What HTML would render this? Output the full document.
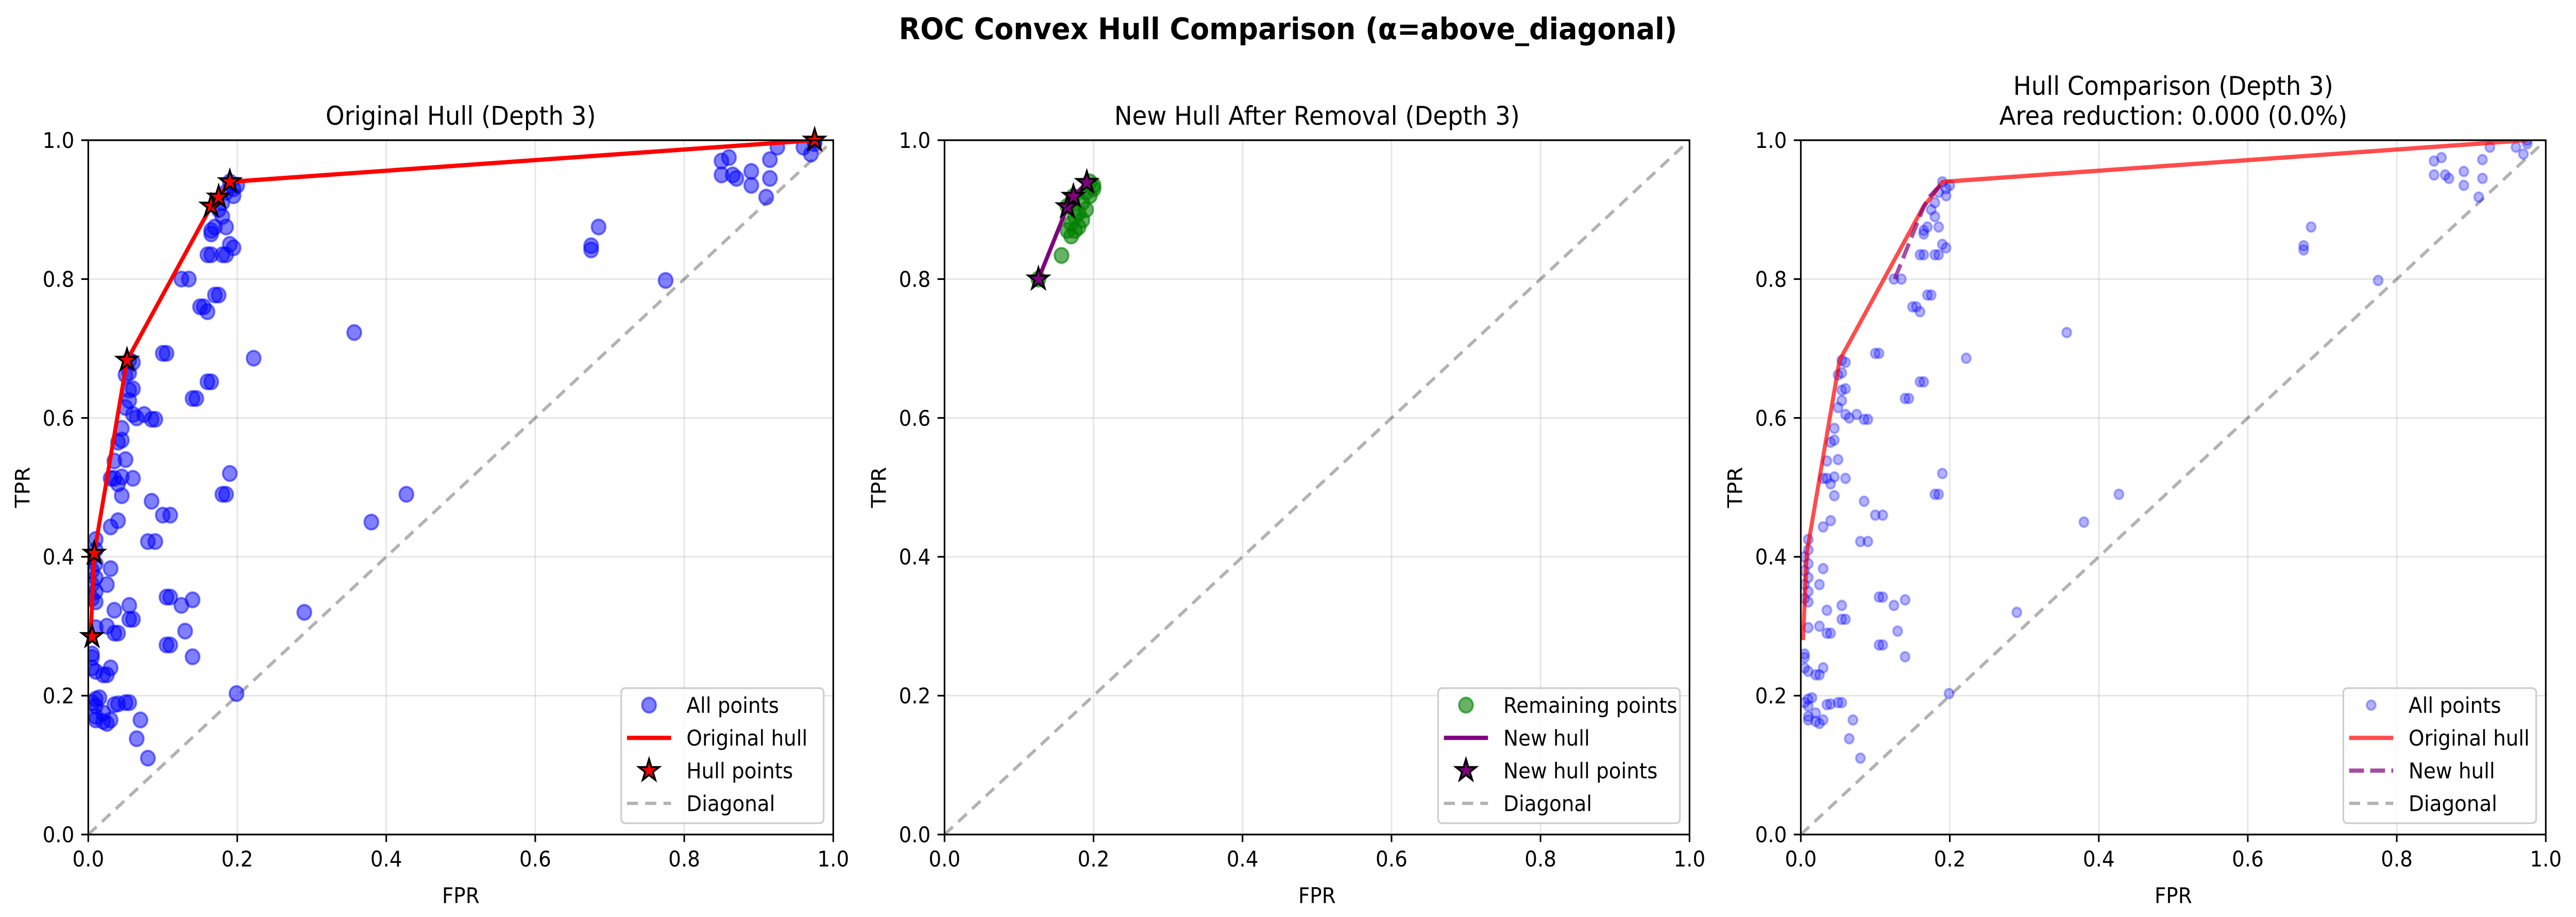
<!DOCTYPE html>
<html><head><meta charset="utf-8"><style>
html,body{margin:0;padding:0;background:#fff;overflow:hidden;width:100%;height:100%;}
svg{display:block;position:fixed;left:0;top:0;width:100vw;height:100vh;font-family:"DejaVu Sans","Liberation Sans",sans-serif;}
</style></head><body>
<svg id="fig" viewBox="0 0 5370 1779" preserveAspectRatio="none" xmlns="http://www.w3.org/2000/svg">
<text x="2685" y="76" text-anchor="middle" font-size="58" font-weight="bold">ROC Convex Hull Comparison (α=above_diagonal)</text>
</svg>
<script>
// ---- data ----
const tickValues = [0, 0.2, 0.4, 0.6, 0.8, 1.0];
const tickLabels = ["0.0", "0.2", "0.4", "0.6", "0.8", "1.0"];
const fprAll = [0.85,0.86,0.85,0.865,0.87,0.89,0.89,0.91,0.915,0.915,0.925,0.96,0.97,0.975,0.975,
0.675,0.675,0.685,0.775,0.357,0.222,0.38,0.427,0.29,0.199,
0.19,0.195,0.2,0.195,0.185,0.18,0.175,0.18,0.185,0.17,0.165,0.165,0.19,0.195,0.185,0.16,0.165,0.18,
0.125,0.135,0.17,0.175,0.15,0.155,0.16,
0.1,0.105,0.055,0.06,
0.16,0.165,0.14,0.145,
0.055,0.05,0.06,0.055,0.055,0.05,0.06,0.065,0.075,0.085,0.09,
0.045,0.045,0.04,0.05,0.035,0.045,0.06,0.03,0.035,0.04,0.045,
0.19,0.18,0.185,0.085,0.1,0.11,0.04,0.03,0.08,0.09,
0.01,0.01,0.005,0.01,0.005,0.01,0.005,0.01,0.005,0.01,0.03,0.025,
0.105,0.11,0.14,0.125,0.055,0.035,0.055,0.06,0.035,0.04,0.01,0.025,0.13,0.105,0.11,0.14,
0.005,0.005,0.005,0.01,0.03,0.02,0.025,0.01,0.015,0.005,0.01,0.035,0.04,0.05,0.055,0.01,0.01,0.02,0.02,0.03,0.025,0.07,0.065,0.08];
const tprAll = [0.97,0.975,0.95,0.95,0.945,0.955,0.935,0.918,0.972,0.945,0.99,0.99,0.98,0.995,1.0,
0.848,0.842,0.875,0.798,0.723,0.686,0.45,0.49,0.32,0.203,
0.94,0.93,0.935,0.92,0.925,0.91,0.9,0.89,0.875,0.875,0.865,0.87,0.85,0.845,0.835,0.835,0.835,0.835,
0.8,0.8,0.777,0.777,0.76,0.76,0.753,
0.693,0.693,0.683,0.68,
0.652,0.652,0.628,0.628,
0.665,0.662,0.642,0.64,0.625,0.615,0.605,0.6,0.605,0.598,0.598,
0.585,0.568,0.565,0.54,0.538,0.515,0.513,0.513,0.513,0.505,0.488,
0.52,0.49,0.49,0.48,0.46,0.46,0.452,0.443,0.422,0.422,
0.425,0.41,0.4,0.39,0.38,0.37,0.36,0.35,0.34,0.335,0.383,0.36,
0.342,0.342,0.338,0.33,0.33,0.323,0.31,0.31,0.29,0.29,0.298,0.3,0.293,0.273,0.273,0.256,
0.26,0.255,0.24,0.235,0.24,0.23,0.23,0.195,0.197,0.19,0.185,0.187,0.188,0.19,0.19,0.17,0.165,0.175,0.163,0.165,0.16,0.165,0.138,0.11];
const hullFpr = [0.003,0.008,0.052,0.165,0.175,0.19,0.975];
const hullTpr = [0.28,0.405,0.683,0.905,0.918,0.94,1.0];
const hullStarFpr = [0.005,0.008,0.052,0.165,0.175,0.19,0.975];
const hullStarTpr = [0.285,0.405,0.683,0.905,0.918,0.94,1.0];
const remFpr = [0.126,0.157,0.165,0.17,0.175,0.175,0.18,0.185,0.185,0.19,0.19,0.195,0.195,0.2,0.2,0.165,0.173,0.18,0.17];
const remTpr = [0.80,0.834,0.87,0.88,0.87,0.89,0.875,0.885,0.91,0.9,0.925,0.92,0.94,0.93,0.935,0.905,0.919,0.895,0.862];
const newHullFpr = [0.126,0.165,0.173,0.191];
const newHullTpr = [0.80,0.904,0.919,0.939];

// ---- layout ----
const NS = "http://www.w3.org/2000/svg";
const svg = document.getElementById('fig');
const AX_W = 1553, AX_H = 1347, AX_TOP = 272;
const STAR_R = 22;
const panelsX = [184, 1969, 3754];
function el(tag, attrs, parent){const e=document.createElementNS(NS,tag);for(const k in attrs)e.setAttribute(k,attrs[k]);(parent||svg).appendChild(e);return e;}
function starPath(cx,cy,R){const r=R*0.381966;let d='';for(let i=0;i<10;i++){const rr=i%2?r:R;const a=-Math.PI/2+i*Math.PI/5;d+=(i?'L':'M')+(cx+rr*Math.cos(a)).toFixed(1)+','+(cy+rr*Math.sin(a)).toFixed(1);}return d+'Z';}

function makeAxes(idx, titleLines){
  const x0 = panelsX[idx];
  const sx = v => x0 + v*AX_W;
  const sy = v => AX_TOP + AX_H - v*AX_H;
  const g = el('g',{});
  
  
  const cp = el('clipPath',{id:'clip'+idx},g);
  el('rect',{x:x0,y:AX_TOP,width:AX_W,height:AX_H},cp);
  tickValues.forEach((t,i)=>{
    const gx=el('line',{x1:sx(t),x2:sx(t),y1:AX_TOP,y2:AX_TOP+AX_H,stroke:'#b0b0b0','stroke-opacity':0.3,'stroke-width':3.3},g);
    
    
    const gy=el('line',{x1:x0,x2:x0+AX_W,y1:sy(t),y2:sy(t),stroke:'#b0b0b0','stroke-opacity':0.3,'stroke-width':3.3},g);
    
    
  });
  const data = el('g',{'clip-path':'url(#clip'+idx+')'},g);
  tickValues.forEach((t,i)=>{
    el('line',{x1:sx(t),x2:sx(t),y1:AX_TOP+AX_H,y2:AX_TOP+AX_H+14.6,stroke:'#000','stroke-width':3.3},g);
    const xl=el('text',{x:sx(t),y:AX_TOP+AX_H+62,'text-anchor':'middle','font-size':41.7},g);
    xl.textContent=tickLabels[i];
    
    
    el('line',{x1:x0-14.6,x2:x0,y1:sy(t),y2:sy(t),stroke:'#000','stroke-width':3.3},g);
    const yl=el('text',{x:x0-29,y:sy(t)+15,'text-anchor':'end','font-size':41.7},g);
    yl.textContent=tickLabels[i];
    
    
  });
  const xt=el('text',{x:x0+AX_W/2,y:1752,'text-anchor':'middle','font-size':41.7},g);
  xt.textContent='FPR';
  
  
  const ytx = x0-122;
  const yt=el('text',{x:ytx,y:AX_TOP+AX_H/2,'text-anchor':'middle','font-size':41.7,transform:'rotate(-90 '+ytx+' '+(AX_TOP+AX_H/2)+')'},g);
  yt.textContent='TPR';
  
  
  titleLines.forEach((s,i)=>{
    const tt=el('text',{x:x0+AX_W/2,y:AX_TOP-30-(titleLines.length-1-i)*58,'text-anchor':'middle','font-size':50},g);
    tt.textContent=s;
    
    
  });
  return {g,data,sx,sy,x0};
}
function drawSpines(ax){
  el('rect',{x:ax.x0,y:AX_TOP,width:AX_W,height:AX_H,fill:'none',stroke:'#000','stroke-width':3.3},ax.g);
}
function diag(ax){
  const d=el('line',{x1:ax.sx(0),y1:ax.sy(0),x2:ax.sx(1),y2:ax.sy(1),stroke:'#000','stroke-opacity':0.3,'stroke-width':6.25,'stroke-dasharray':'23 15'},ax.data);
  
  
}
function scatter(ax,xs,ys,r,color,alpha,name){
  xs.forEach((v,i)=>{
    const c=el('circle',{cx:ax.sx(v),cy:ax.sy(ys[i]),r:r,fill:color,'fill-opacity':alpha,stroke:color,'stroke-opacity':alpha,'stroke-width':4},ax.data);
    
    
  });
}
function line(ax,xs,ys,color,alpha,dash,name){
  const pts=xs.map((v,i)=>ax.sx(v).toFixed(1)+','+ax.sy(ys[i]).toFixed(1)).join(' ');
  const attrs={points:pts,fill:'none',stroke:color,'stroke-opacity':alpha,'stroke-width':8.3,'stroke-linejoin':'round'};
  if(dash) attrs['stroke-dasharray']=dash;
  const p=el('polyline',attrs,ax.data);
  
  
}
function stars(ax,xs,ys,color,name){
  xs.forEach((v,i)=>{
    const s=el('path',{d:starPath(ax.sx(v),ax.sy(ys[i]),STAR_R),fill:color,stroke:'#000','stroke-width':4,'stroke-linejoin':'miter'},ax.g);
    
    
  });
}
function legend(ax,left,entries,name){
  const top=1335,bottom=1597,right=ax.x0+AX_W-20;
  const lg=el('g',{},ax.g);
  
  
  el('rect',{x:left,y:top,width:right-left,height:bottom-top,rx:8,fill:'#fff','fill-opacity':0.8,stroke:'#cccccc','stroke-width':3.3},lg);
  entries.forEach((e,i)=>{
    const cy=1368+i*63.5;
    const hx1=left+12, hx2=left+104, hc=(hx1+hx2)/2;
    if(e.type==='circle') el('circle',{cx:hc,cy:cy,r:e.r,fill:e.color,'fill-opacity':e.alpha,stroke:e.color,'stroke-opacity':e.alpha,'stroke-width':4},lg);
    if(e.type==='line') el('line',{x1:hx1,x2:hx2,y1:cy,y2:cy,stroke:e.color,'stroke-opacity':e.alpha,'stroke-width':e.w||8.3,'stroke-dasharray':e.dash||'none'},lg);
    if(e.type==='star') el('path',{d:starPath(hc,cy,STAR_R),fill:e.color,stroke:'#000','stroke-width':4},lg);
    const t=el('text',{x:left+136,y:cy+15,'font-size':41.7},lg);
    t.textContent=e.label;
    
    
  });
}

// Panel 1
const a1=makeAxes(0,['Original Hull (Depth 3)']);
diag(a1);
scatter(a1,fprAll,tprAll,14.5,'#0000ff',0.5,'all-point');
line(a1,hullFpr,hullTpr,'#ff0000',1,null,'original-hull-line');
stars(a1,hullStarFpr,hullStarTpr,'#ff0000','hull-point-star');
drawSpines(a1);
legend(a1,1295,[
 {type:'circle',r:14.5,color:'#0000ff',alpha:0.5,label:'All points'},
 {type:'line',color:'#ff0000',alpha:1,label:'Original hull'},
 {type:'star',color:'#ff0000',label:'Hull points'},
 {type:'line',color:'#000',alpha:0.3,w:6.25,dash:'23 15',label:'Diagonal'}],'legend-panel-1');

// Panel 2
const a2=makeAxes(1,['New Hull After Removal (Depth 3)']);
diag(a2);
scatter(a2,remFpr,remTpr,14.5,'#008000',0.6,'remaining-point');
line(a2,newHullFpr,newHullTpr,'#800080',1,null,'new-hull-line');
stars(a2,newHullFpr,newHullTpr,'#800080','new-hull-point-star');
drawSpines(a2);
legend(a2,2998,[
 {type:'circle',r:14.5,color:'#008000',alpha:0.6,label:'Remaining points'},
 {type:'line',color:'#800080',alpha:1,label:'New hull'},
 {type:'star',color:'#800080',label:'New hull points'},
 {type:'line',color:'#000',alpha:0.3,w:6.25,dash:'23 15',label:'Diagonal'}],'legend-panel-2');

// Panel 3
const a3=makeAxes(2,['Hull Comparison (Depth 3)','Area reduction: 0.000 (0.0%)']);
diag(a3);
scatter(a3,fprAll,tprAll,9.3,'#0000ff',0.3,'all-point-faint');
line(a3,hullFpr,hullTpr,'#ff0000',0.7,null,'original-hull-line');
line(a3,newHullFpr,newHullTpr,'#800080',0.7,'31 13','new-hull-dashed');
drawSpines(a3);
legend(a3,4885,[
 {type:'circle',r:9.3,color:'#0000ff',alpha:0.3,label:'All points'},
 {type:'line',color:'#ff0000',alpha:0.7,label:'Original hull'},
 {type:'line',color:'#800080',alpha:0.7,dash:'31 13',label:'New hull'},
 {type:'line',color:'#000',alpha:0.3,w:6.25,dash:'23 15',label:'Diagonal'}],'legend-panel-3');
</script>
</body></html>
